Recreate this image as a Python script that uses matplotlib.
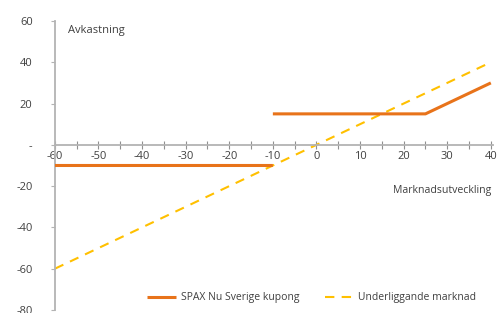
import numpy as np
import matplotlib.pyplot as plt
from matplotlib.ticker import MultipleLocator

# data
market_x = [-60, 40]
market_y = [-60, 40]
spax_x = [-60, -10, np.nan, -10, 25, 40]
spax_y = [-10, -10, np.nan, 15, 15, 30]

x_ticks = [-60, -50, -40, -30, -20, -10, 0, 10, 20, 30, 40]
y_ticks = [60, 40, 20, 0, -20, -40, -60, -80]
y_labels = ['60', '40', '20', '-', '-20', '-40', '-60', '-80']

orange = '#E8731A'
yellow = '#FFC000'
grey = '#B3B3B3'
txt = '#404040'

plt.rcParams['font.family'] = ['Open Sans', 'DejaVu Sans']

fig = plt.figure(figsize=(4.99, 3.13), dpi=100)
ax = fig.add_axes([0.110, 0.0096, 0.878, 0.9234])

ax.plot(spax_x, spax_y, color=orange, lw=2.2, solid_capstyle='butt',
        label='SPAX Nu Sverige kupong', zorder=3)
ax.plot(market_x, market_y, color=yellow, lw=1.5, dashes=(4.5, 3.5),
        label='Underliggande marknad', zorder=2)

ax.set_xlim(-60, 40.5)
ax.set_ylim(-80, 60)

ax.spines['top'].set_visible(False)
ax.spines['right'].set_visible(False)
ax.spines['bottom'].set_position(('data', 0))
for s in ('left', 'bottom'):
    ax.spines[s].set_color(grey)
    ax.spines[s].set_linewidth(1.3)

ax.set_xticks(x_ticks)
ax.set_xticklabels([str(v) for v in x_ticks])
ax.xaxis.set_minor_locator(MultipleLocator(5))
ax.tick_params(axis='x', which='both', direction='inout', length=6,
               width=0.8, color='#909090', labelsize=8, labelcolor=txt,
               pad=1.5)
ax.set_yticks(y_ticks)
ax.set_yticklabels(y_labels)
ax.tick_params(axis='y', direction='out', length=3, width=0.8,
               color=grey, labelsize=8, labelcolor=txt, pad=13)

ax.text(0.03, 0.985, 'Avkastning', transform=ax.transAxes,
        fontsize=8, color=txt, va='top', ha='left')
ax.text(0.995, 0.415, 'Marknadsutveckling', transform=ax.transAxes,
        fontsize=7.6, color=txt, va='center', ha='right')

fig.legend(loc='center', bbox_to_anchor=(0.625, 0.048), ncol=2,
           frameon=False, fontsize=7.5, handlelength=2.8,
           columnspacing=2.5, handletextpad=0.4, labelcolor=txt)

fig.savefig('out.png', dpi=100)
